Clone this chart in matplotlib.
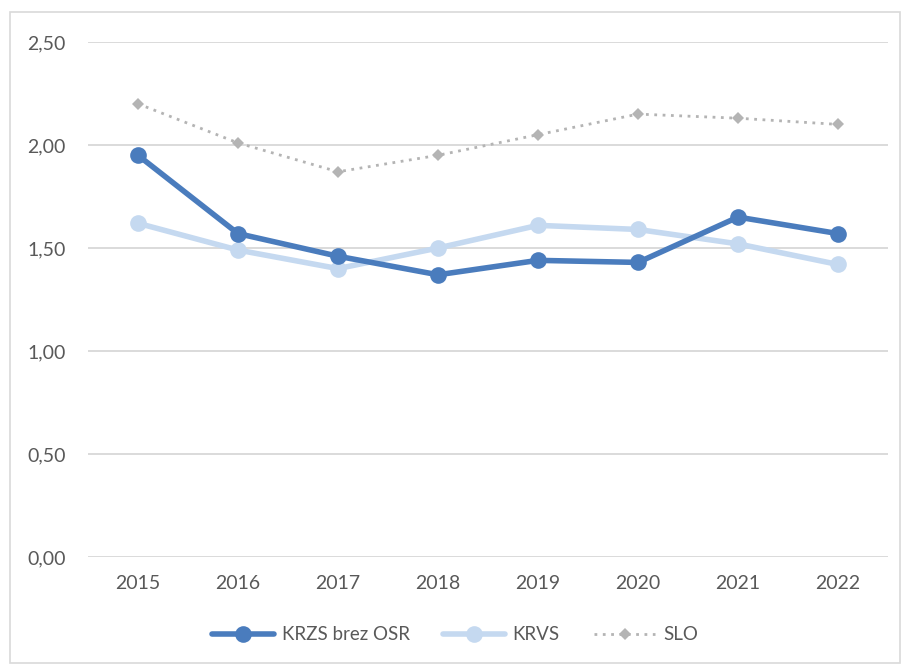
import matplotlib
matplotlib.use("Agg")
import matplotlib.pyplot as plt
from matplotlib.patches import Rectangle

years = ["2015", "2016", "2017", "2018", "2019", "2020", "2021", "2022"]
krzs = [1.95, 1.57, 1.46, 1.37, 1.44, 1.43, 1.65, 1.57]
krvs = [1.62, 1.49, 1.40, 1.50, 1.61, 1.59, 1.52, 1.42]
slo = [2.20, 2.01, 1.87, 1.95, 2.05, 2.15, 2.13, 2.10]
yticks = [0.0, 0.5, 1.0, 1.5, 2.0, 2.5]

plt.rcParams['font.family'] = ['Lato', 'DejaVu Sans']

fig = plt.figure(figsize=(9.03, 6.66), dpi=100)
ax = fig.add_axes([88/903, 1-557/666, 800/903, (557-42)/666])

x = list(range(len(years)))
ax.plot(x, slo, color='#B4B4B4', lw=2.0, linestyle=(0, (1, 2)), marker='D',
        markersize=6, markeredgewidth=0, label='SLO', zorder=2)
ax.plot(x, krvs, color='#C5D9F0', lw=4.0, marker='o', markersize=12,
        markeredgewidth=0, label='KRVS', zorder=3, solid_capstyle='round')
ax.plot(x, krzs, color='#4A7CBD', lw=4.0, marker='o', markersize=12,
        markeredgewidth=0, label='KRZS brez OSR', zorder=4, solid_capstyle='round')

ax.set_xlim(-0.5, len(years) - 0.5)
ax.set_ylim(0, 2.5)
ax.set_yticks(yticks)
ax.set_yticklabels([f"{v:.2f}".replace('.', ',') for v in yticks])
ax.set_xticks(x)
ax.set_xticklabels(years)
ax.grid(axis='y', color='#D4D4D4', lw=1.2)
ax.set_axisbelow(True)
for s in ax.spines.values():
    s.set_visible(False)
ax.tick_params(axis='both', length=0, labelsize=14, colors='#595959')
ax.tick_params(axis='y', pad=16)
ax.tick_params(axis='x', pad=13)

handles, labels = ax.get_legend_handles_labels()
order = [2, 1, 0]
leg = fig.legend([handles[i] for i in order], [labels[i] for i in order],
                 loc='center', bbox_to_anchor=(455/903, 1-635/666), ncol=3,
                 frameon=False, fontsize=13.5, handlelength=3.3, columnspacing=1.8,
                 handletextpad=0.4, numpoints=1)
for t in leg.get_texts():
    t.set_color('#595959')

fig.patches.append(Rectangle((10/903, 3/666), 890/903, 651/666, transform=fig.transFigure,
                             fill=False, edgecolor='#D9D9D9', lw=1.2))

fig.savefig('out.png', dpi=100)
